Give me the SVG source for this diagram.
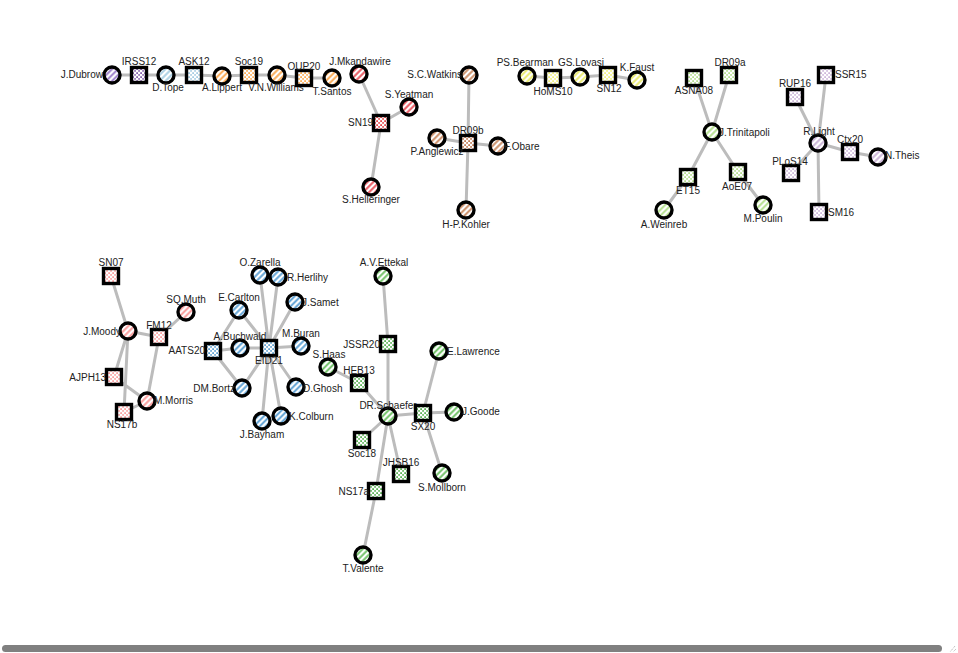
<svg xmlns="http://www.w3.org/2000/svg" width="958" height="653" viewBox="0 0 958 653">
<style>
.e{stroke:#bcbcbc;stroke-width:3;stroke-linecap:round;fill:none}
.p,.s{stroke:#000;stroke-width:3.4}
text{font-family:"Liberation Sans",Arial,sans-serif;font-size:10px;fill:#222}
.m{text-anchor:middle}.r{text-anchor:end}
</style>
<defs>
<pattern id="h-pu" patternUnits="userSpaceOnUse" width="4.2" height="4.2" patternTransform="rotate(-45)"><rect width="5" height="5" fill="#fff"/><line x1="0" y1="2.1" x2="5" y2="2.1" stroke="#9a7cc8" stroke-width="1.9"/></pattern>
<pattern id="h-lb" patternUnits="userSpaceOnUse" width="4.2" height="4.2" patternTransform="rotate(-45)"><rect width="5" height="5" fill="#fff"/><line x1="0" y1="2.1" x2="5" y2="2.1" stroke="#a6cee3" stroke-width="1.9"/></pattern>
<pattern id="h-or" patternUnits="userSpaceOnUse" width="4.2" height="4.2" patternTransform="rotate(-45)"><rect width="5" height="5" fill="#fff"/><line x1="0" y1="2.1" x2="5" y2="2.1" stroke="#fba84f" stroke-width="1.9"/></pattern>
<pattern id="h-rd" patternUnits="userSpaceOnUse" width="4.2" height="4.2" patternTransform="rotate(-45)"><rect width="5" height="5" fill="#fff"/><line x1="0" y1="2.1" x2="5" y2="2.1" stroke="#e8505a" stroke-width="1.9"/></pattern>
<pattern id="h-br" patternUnits="userSpaceOnUse" width="4.2" height="4.2" patternTransform="rotate(-45)"><rect width="5" height="5" fill="#fff"/><line x1="0" y1="2.1" x2="5" y2="2.1" stroke="#c98a62" stroke-width="1.9"/></pattern>
<pattern id="h-ye" patternUnits="userSpaceOnUse" width="4.2" height="4.2" patternTransform="rotate(-45)"><rect width="5" height="5" fill="#fff"/><line x1="0" y1="2.1" x2="5" y2="2.1" stroke="#eaea6a" stroke-width="1.9"/></pattern>
<pattern id="h-lg" patternUnits="userSpaceOnUse" width="4.2" height="4.2" patternTransform="rotate(-45)"><rect width="5" height="5" fill="#fff"/><line x1="0" y1="2.1" x2="5" y2="2.1" stroke="#b2df8a" stroke-width="1.9"/></pattern>
<pattern id="h-lv" patternUnits="userSpaceOnUse" width="4.2" height="4.2" patternTransform="rotate(-45)"><rect width="5" height="5" fill="#fff"/><line x1="0" y1="2.1" x2="5" y2="2.1" stroke="#cab2d6" stroke-width="1.9"/></pattern>
<pattern id="h-pk" patternUnits="userSpaceOnUse" width="4.2" height="4.2" patternTransform="rotate(-45)"><rect width="5" height="5" fill="#fff"/><line x1="0" y1="2.1" x2="5" y2="2.1" stroke="#fb9a99" stroke-width="1.9"/></pattern>
<pattern id="h-bl" patternUnits="userSpaceOnUse" width="4.2" height="4.2" patternTransform="rotate(-45)"><rect width="5" height="5" fill="#fff"/><line x1="0" y1="2.1" x2="5" y2="2.1" stroke="#5b9fd3" stroke-width="1.9"/></pattern>
<pattern id="h-gr" patternUnits="userSpaceOnUse" width="4.2" height="4.2" patternTransform="rotate(-45)"><rect width="5" height="5" fill="#fff"/><line x1="0" y1="2.1" x2="5" y2="2.1" stroke="#6cbf63" stroke-width="1.9"/></pattern>

<pattern id="d-pu" patternUnits="userSpaceOnUse" width="4" height="4"><rect width="4" height="4" fill="#fff"/><rect x="0.3" y="0.3" width="1.6" height="1.6" fill="#6a3d9a"/><rect x="2.3" y="2.2" width="1.5" height="1.5" fill="#6a3d9a"/></pattern>
<pattern id="d-lb" patternUnits="userSpaceOnUse" width="4" height="4"><rect width="4" height="4" fill="#fff"/><rect x="0.3" y="0.3" width="1.6" height="1.6" fill="#8fbfdc"/><rect x="2.3" y="2.2" width="1.5" height="1.5" fill="#8fbfdc"/></pattern>
<pattern id="d-or" patternUnits="userSpaceOnUse" width="4" height="4"><rect width="4" height="4" fill="#fff"/><rect x="0.3" y="0.3" width="1.6" height="1.6" fill="#ff9a2a"/><rect x="2.3" y="2.2" width="1.5" height="1.5" fill="#ff9a2a"/></pattern>
<pattern id="d-rd" patternUnits="userSpaceOnUse" width="4" height="4"><rect width="4" height="4" fill="#fff"/><rect x="0.3" y="0.3" width="1.6" height="1.6" fill="#e31a1c"/><rect x="2.3" y="2.2" width="1.5" height="1.5" fill="#e31a1c"/></pattern>
<pattern id="d-br" patternUnits="userSpaceOnUse" width="4" height="4"><rect width="4" height="4" fill="#fff"/><rect x="0.3" y="0.3" width="1.6" height="1.6" fill="#b15928"/><rect x="2.3" y="2.2" width="1.5" height="1.5" fill="#b15928"/></pattern>
<pattern id="d-ye" patternUnits="userSpaceOnUse" width="4" height="4"><rect width="4" height="4" fill="#fff"/><rect x="0.3" y="0.3" width="1.6" height="1.6" fill="#eeee60"/><rect x="2.3" y="2.2" width="1.5" height="1.5" fill="#eeee60"/></pattern>
<pattern id="d-lg" patternUnits="userSpaceOnUse" width="4" height="4"><rect width="4" height="4" fill="#fff"/><rect x="0.3" y="0.3" width="1.6" height="1.6" fill="#a3d675"/><rect x="2.3" y="2.2" width="1.5" height="1.5" fill="#a3d675"/></pattern>
<pattern id="d-lv" patternUnits="userSpaceOnUse" width="4" height="4"><rect width="4" height="4" fill="#fff"/><rect x="0.3" y="0.3" width="1.6" height="1.6" fill="#c2a6d2"/><rect x="2.3" y="2.2" width="1.5" height="1.5" fill="#c2a6d2"/></pattern>
<pattern id="d-pk" patternUnits="userSpaceOnUse" width="4" height="4"><rect width="4" height="4" fill="#fff"/><rect x="0.3" y="0.3" width="1.6" height="1.6" fill="#fb8a89"/><rect x="2.3" y="2.2" width="1.5" height="1.5" fill="#fb8a89"/></pattern>
<pattern id="d-bl" patternUnits="userSpaceOnUse" width="4" height="4"><rect width="4" height="4" fill="#fff"/><rect x="0.3" y="0.3" width="1.6" height="1.6" fill="#3a8cc8"/><rect x="2.3" y="2.2" width="1.5" height="1.5" fill="#3a8cc8"/></pattern>
<pattern id="d-gr" patternUnits="userSpaceOnUse" width="4" height="4"><rect width="4" height="4" fill="#fff"/><rect x="0.3" y="0.3" width="1.6" height="1.6" fill="#33a02c"/><rect x="2.3" y="2.2" width="1.5" height="1.5" fill="#33a02c"/></pattern>
</defs>
<rect width="958" height="653" fill="#fff"/>

<g id="connectors">
<path class="e" d="M112,75L139,75M139,75L166,75M166,75L194,75M194,75L222,76M222,76L249,75M249,75L277,75M277,75L304,78M304,78L332,78"/>
<path class="e" d="M359,74L381,123M381,123L409,107M381,123L371,187"/>
<path class="e" d="M469,75L468,143M437,138L468,143M468,143L498,146M468,143L466,210"/>
<path class="e" d="M527,76L553,78M553,78L580,77M580,77L608,75M608,75L637,80"/>
<path class="e" d="M694,78L712,132M729,75L712,132M712,132L688,177M712,132L738,172M688,177L664,210M738,172L763,205"/>
<path class="e" d="M826,75L818,143M795,97L818,143M818,143L850,152M850,152L878,157M818,143L791,173M818,143L819,212"/>
<path class="e" d="M111,276L128,331M128,331L159,337M159,337L186,312M128,331L114,377M128,331L124,412M114,377L147,401M159,337L147,401M147,401L124,412"/>
<path class="e" d="M269,348L260,275M269,348L278,277M269,348L295,302M269,348L239,310M269,348L240,348M269,348L301,346M269,348L242,388M269,348L296,387M269,348L262,421M269,348L281,416M213,351L239,310M213,351L240,348M213,351L242,388"/>
<path class="e" d="M383,276L388,344M388,344L388,416M328,367L359,383M359,383L388,416M388,416L423,413M423,413L439,351M423,413L454,412M423,413L442,473M388,416L362,440M388,416L401,474M388,416L376,491M376,491L363,555"/>
</g>

<g id="n-jdubrow"><circle class="p" cx="112" cy="75" r="8" fill="url(#h-pu)"/><text class="r" x="103" y="78">J.Dubrow</text></g>
<g id="n-irss12"><rect class="s" x="131.5" y="67.5" width="15" height="15" fill="url(#d-pu)"/><text class="m" x="139" y="65">IRSS12</text></g>
<g id="n-dtope"><circle class="p" cx="166" cy="75" r="8" fill="url(#h-lb)"/><text class="m" x="168" y="91">D.Tope</text></g>
<g id="n-ask12"><rect class="s" x="186.5" y="67.5" width="15" height="15" fill="url(#d-lb)"/><text class="m" x="194" y="65">ASK12</text></g>
<g id="n-alippert"><circle class="p" cx="222" cy="76" r="8" fill="url(#h-or)"/><text class="m" x="222" y="91">A.Lippert</text></g>
<g id="n-soc19"><rect class="s" x="241.5" y="67.5" width="15" height="15" fill="url(#d-or)"/><text class="m" x="249" y="65">Soc19</text></g>
<g id="n-vnwilliams"><circle class="p" cx="277" cy="75" r="8" fill="url(#h-or)"/><text class="m" x="276" y="91">V.N.Williams</text></g>
<g id="n-oup20"><rect class="s" x="296.5" y="70.5" width="15" height="15" fill="url(#d-or)"/><text class="m" x="304" y="70">OUP20</text></g>
<g id="n-tsantos"><circle class="p" cx="332" cy="78" r="8" fill="url(#h-or)"/><text class="m" x="332" y="95">T.Santos</text></g>
<g id="n-jmkandawire"><circle class="p" cx="359" cy="74" r="8" fill="url(#h-rd)"/><text class="m" x="360" y="65">J.Mkandawire</text></g>
<g id="n-syeatman"><circle class="p" cx="409" cy="107" r="8" fill="url(#h-rd)"/><text class="m" x="409" y="98">S.Yeatman</text></g>
<g id="n-sn19"><rect class="s" x="373.5" y="115.5" width="15" height="15" fill="url(#d-rd)"/><text class="r" x="373" y="126">SN19</text></g>
<g id="n-shelleringer"><circle class="p" cx="371" cy="187" r="8" fill="url(#h-rd)"/><text class="m" x="371" y="203">S.Helleringer</text></g>

<g id="n-scwatkins"><circle class="p" cx="469" cy="75" r="8" fill="url(#h-br)"/><text class="r" x="462" y="78">S.C.Watkins</text></g>
<g id="n-dr09b"><rect class="s" x="460.5" y="135.5" width="15" height="15" fill="url(#d-br)"/><text class="m" x="468" y="134">DR09b</text></g>
<g id="n-panglewicz"><circle class="p" cx="437" cy="138" r="8" fill="url(#h-br)"/><text class="m" x="437" y="155">P.Anglewicz</text></g>
<g id="n-fobare"><circle class="p" cx="498" cy="146" r="8" fill="url(#h-br)"/><text x="504" y="150">F.Obare</text></g>
<g id="n-hpkohler"><circle class="p" cx="466" cy="210" r="8" fill="url(#h-br)"/><text class="m" x="466" y="228">H-P.Kohler</text></g>

<g id="n-psbearman"><circle class="p" cx="527" cy="76" r="8" fill="url(#h-ye)"/><text class="m" x="525" y="66">PS.Bearman</text></g>
<g id="n-homs10"><rect class="s" x="545.5" y="70.5" width="15" height="15" fill="url(#d-ye)"/><text class="m" x="553" y="95">HoMS10</text></g>
<g id="n-gslovasi"><circle class="p" cx="580" cy="77" r="8" fill="url(#h-ye)"/><text class="m" x="581" y="66">GS.Lovasi</text></g>
<g id="n-sn12"><rect class="s" x="600.5" y="67.5" width="15" height="15" fill="url(#d-ye)"/><text class="m" x="609" y="92">SN12</text></g>
<g id="n-kfaust"><circle class="p" cx="637" cy="80" r="8" fill="url(#h-ye)"/><text class="m" x="637" y="71">K.Faust</text></g>

<g id="n-asna08"><rect class="s" x="686.5" y="70.5" width="15" height="15" fill="url(#d-lg)"/><text class="m" x="694" y="94">ASNA08</text></g>
<g id="n-dr09a"><rect class="s" x="721.5" y="67.5" width="15" height="15" fill="url(#d-lg)"/><text class="m" x="730" y="66">DR09a</text></g>
<g id="n-jtrinitapoli"><circle class="p" cx="712" cy="132" r="8" fill="url(#h-lg)"/><text x="719" y="136">J.Trinitapoli</text></g>
<g id="n-et15"><rect class="s" x="680.5" y="169.5" width="15" height="15" fill="url(#d-lg)"/><text class="m" x="688" y="194">ET15</text></g>
<g id="n-aoe07"><rect class="s" x="730.5" y="164.5" width="15" height="15" fill="url(#d-lg)"/><text class="m" x="737" y="190">AoE07</text></g>
<g id="n-aweinreb"><circle class="p" cx="664" cy="210" r="8" fill="url(#h-lg)"/><text class="m" x="664" y="228">A.Weinreb</text></g>
<g id="n-mpoulin"><circle class="p" cx="763" cy="205" r="8" fill="url(#h-lg)"/><text class="m" x="763" y="222">M.Poulin</text></g>

<g id="n-ssr15"><rect class="s" x="818.5" y="67.5" width="15" height="15" fill="url(#d-lv)"/><text x="835" y="78">SSR15</text></g>
<g id="n-rup16"><rect class="s" x="787.5" y="89.5" width="15" height="15" fill="url(#d-lv)"/><text class="m" x="795" y="87">RUP16</text></g>
<g id="n-rlight"><circle class="p" cx="818" cy="143" r="8" fill="url(#h-lv)"/><text class="m" x="819" y="135">R.Light</text></g>
<g id="n-ctx20"><rect class="s" x="842.5" y="144.5" width="15" height="15" fill="url(#d-lv)"/><text class="m" x="850" y="143">Ctx20</text></g>
<g id="n-ntheis"><circle class="p" cx="878" cy="157" r="8" fill="url(#h-lv)"/><text x="885" y="159">N.Theis</text></g>
<g id="n-plos14"><rect class="s" x="783.5" y="165.5" width="15" height="15" fill="url(#d-lv)"/><text class="m" x="790" y="165">PLoS14</text></g>
<g id="n-sm16"><rect class="s" x="811.5" y="204.5" width="15" height="15" fill="url(#d-lv)"/><text x="828" y="216">SM16</text></g>

<g id="n-sn07"><rect class="s" x="103.5" y="268.5" width="15" height="15" fill="url(#d-pk)"/><text class="m" x="111" y="266">SN07</text></g>
<g id="n-jmoody"><circle class="p" cx="128" cy="331" r="8" fill="url(#h-pk)"/><text class="r" x="121" y="335">J.Moody</text></g>
<g id="n-fm12"><rect class="s" x="151.5" y="329.5" width="15" height="15" fill="url(#d-pk)"/><text class="m" x="159" y="329">FM12</text></g>
<g id="n-sqmuth"><circle class="p" cx="186" cy="312" r="8" fill="url(#h-pk)"/><text class="m" x="186" y="303">SQ.Muth</text></g>
<g id="n-ajph13"><rect class="s" x="106.5" y="369.5" width="15" height="15" fill="url(#d-pk)"/><text class="r" x="106" y="381">AJPH13</text></g>
<g id="n-mmorris"><circle class="p" cx="147" cy="401" r="8" fill="url(#h-pk)"/><text x="154" y="404">M.Morris</text></g>
<g id="n-ns17b"><rect class="s" x="116.5" y="404.5" width="15" height="15" fill="url(#d-pk)"/><text class="m" x="122" y="428">NS17b</text></g>

<g id="n-ozarella"><circle class="p" cx="260" cy="275" r="8" fill="url(#h-bl)"/><text class="m" x="260" y="266">O.Zarella</text></g>
<g id="n-rherlihy"><circle class="p" cx="278" cy="277" r="8" fill="url(#h-bl)"/><text x="287" y="281">R.Herlihy</text></g>
<g id="n-jsamet"><circle class="p" cx="295" cy="302" r="8" fill="url(#h-bl)"/><text x="302" y="306">J.Samet</text></g>
<g id="n-ecarlton"><circle class="p" cx="239" cy="310" r="8" fill="url(#h-bl)"/><text class="m" x="239" y="301">E.Carlton</text></g>
<g id="n-abuchwald"><circle class="p" cx="240" cy="348" r="8" fill="url(#h-bl)"/><text class="m" x="240" y="340">A.Buchwald</text></g>
<g id="n-eid21"><rect class="s" x="261.5" y="340.5" width="15" height="15" fill="url(#d-bl)"/><text class="m" x="269" y="364">EID21</text></g>
<g id="n-aats20"><rect class="s" x="205.5" y="343.5" width="15" height="15" fill="url(#d-bl)"/><text class="r" x="205" y="354">AATS20</text></g>
<g id="n-mburan"><circle class="p" cx="301" cy="346" r="8" fill="url(#h-bl)"/><text class="m" x="301" y="337">M.Buran</text></g>
<g id="n-dmbortz"><circle class="p" cx="242" cy="388" r="8" fill="url(#h-bl)"/><text class="r" x="235" y="392">DM.Bortz</text></g>
<g id="n-dghosh"><circle class="p" cx="296" cy="387" r="8" fill="url(#h-bl)"/><text x="303" y="392">D.Ghosh</text></g>
<g id="n-jbayham"><circle class="p" cx="262" cy="421" r="8" fill="url(#h-bl)"/><text class="m" x="262" y="438">J.Bayham</text></g>
<g id="n-kcolburn"><circle class="p" cx="281" cy="416" r="8" fill="url(#h-bl)"/><text x="289" y="420">K.Colburn</text></g>

<g id="n-shaas"><circle class="p" cx="328" cy="367" r="8" fill="url(#h-gr)"/><text class="m" x="329" y="358">S.Haas</text></g>
<g id="n-avettekal"><circle class="p" cx="383" cy="276" r="8" fill="url(#h-gr)"/><text class="m" x="384" y="266">A.V.Ettekal</text></g>
<g id="n-jssr20"><rect class="s" x="380.5" y="336.5" width="15" height="15" fill="url(#d-gr)"/><text class="r" x="380" y="348">JSSR20</text></g>
<g id="n-elawrence"><circle class="p" cx="439" cy="351" r="8" fill="url(#h-gr)"/><text x="447" y="355">E.Lawrence</text></g>
<g id="n-heb13"><rect class="s" x="351.5" y="375.5" width="15" height="15" fill="url(#d-gr)"/><text class="m" x="359" y="374">HEB13</text></g>
<g id="n-drschaefer"><circle class="p" cx="388" cy="416" r="8" fill="url(#h-gr)"/><text class="m" x="388" y="409">DR.Schaefer</text></g>
<g id="n-sx20"><rect class="s" x="415.5" y="405.5" width="15" height="15" fill="url(#d-gr)"/><text class="m" x="423" y="430">SX20</text></g>
<g id="n-jgoode"><circle class="p" cx="454" cy="412" r="8" fill="url(#h-gr)"/><text x="462" y="415">J.Goode</text></g>
<g id="n-soc18"><rect class="s" x="354.5" y="432.5" width="15" height="15" fill="url(#d-gr)"/><text class="m" x="362" y="457">Soc18</text></g>
<g id="n-jhsb16"><rect class="s" x="393.5" y="466.5" width="15" height="15" fill="url(#d-gr)"/><text class="m" x="401" y="466">JHSB16</text></g>
<g id="n-smollborn"><circle class="p" cx="442" cy="473" r="8" fill="url(#h-gr)"/><text class="m" x="442" y="491">S.Mollborn</text></g>
<g id="n-ns17a"><rect class="s" x="368.5" y="483.5" width="15" height="15" fill="url(#d-gr)"/><text class="r" x="369" y="495">NS17a</text></g>
<g id="n-tvalente"><circle class="p" cx="363" cy="555" r="8" fill="url(#h-gr)"/><text class="m" x="363" y="572">T.Valente</text></g>

<rect x="2" y="645" width="940" height="7" rx="3.5" fill="#808080"/>
<path d="M955,646L950,652M956,649L953,652" stroke="#999" stroke-width="0.8" stroke-dasharray="1,1"/>
</svg>
